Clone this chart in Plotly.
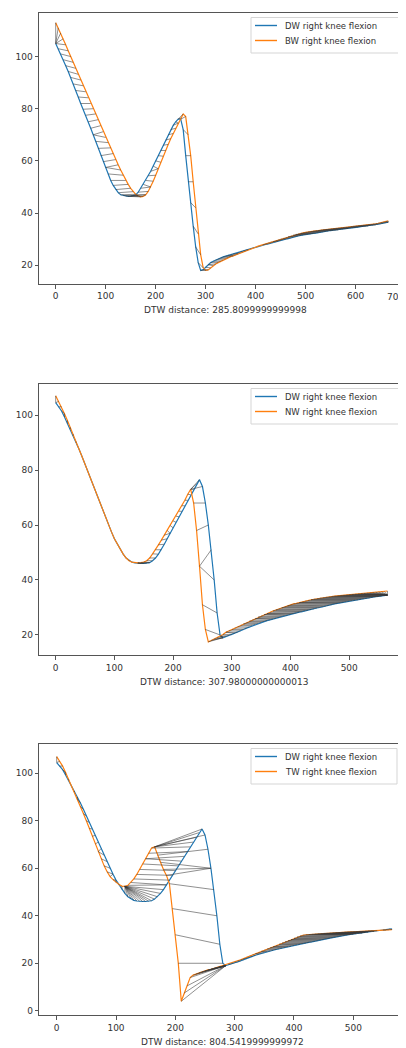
import numpy as np
import plotly.graph_objects as go

# ---------------- data (one value every 5 frames) ----------------
# Panel 1: DW vs BW
p1_x = list(range(0, 666, 5))
p1_dw_y = [105, 103, 101, 98.8, 96.5, 94.3, 92, 89.5, 87, 84.5,
           82, 79.8, 77.5, 75, 72.5, 70, 67.5, 64.8, 62, 59.7,
           57.5, 55, 52.5, 50.6, 49, 47.8, 47, 46.7, 46.5, 46.4,
           46.5, 46.7, 47, 48, 49.5, 51, 52.5, 54.3, 56, 58,
           60, 62, 64, 66, 68, 70, 72, 73.6, 75, 76,
           76, 72, 62, 52, 44, 35, 27, 21, 18, 18.3,
           19.2, 20.2, 21, 21.5, 22, 22.4, 22.8, 23.2, 23.5, 23.8,
           24, 24.3, 24.5, 24.8, 25.2, 25.5, 25.8, 26.1, 26.4, 26.7,
           27, 27.2, 27.5, 27.8, 28, 28.2, 28.5, 28.8, 29, 29.2,
           29.5, 29.8, 30, 30.2, 30.5, 30.8, 31, 31.2, 31.4, 31.6,
           31.8, 31.9, 32, 32.2, 32.3, 32.5, 32.7, 32.8, 33, 33.1,
           33.3, 33.4, 33.5, 33.6, 33.8, 33.9, 34, 34.1, 34.3, 34.4,
           34.5, 34.6, 34.8, 34.9, 35, 35.1, 35.3, 35.4, 35.5, 35.7,
           35.9, 36.1, 36.3, 36.5]
p1_bw_y = [113, 111, 109, 106.8, 104.5, 102.2, 100, 97.8, 95.5, 93.2,
           91, 88.8, 86.5, 84.2, 82, 80, 78, 75.8, 73.5, 71.2,
           69, 67, 65, 62.8, 60.5, 58.5, 56.5, 54.5, 52.5, 51,
           49.5, 48.2, 47.2, 46.6, 46.2, 46.4, 47, 48.3, 50, 52.2,
           54.5, 57, 59.5, 61.8, 64, 66.3, 68.5, 70.5, 72.5, 74.5,
           76.5, 78, 77, 70, 62, 52, 42, 32, 24, 19,
           18, 18.2, 19, 19.8, 20.5, 21, 21.5, 22, 22.5, 22.9,
           23.3, 23.6, 24, 24.4, 24.8, 25.1, 25.5, 25.9, 26.3, 26.6,
           27, 27.3, 27.6, 27.9, 28.2, 28.5, 28.8, 29.1, 29.4, 29.7,
           30, 30.3, 30.6, 30.9, 31.2, 31.5, 31.8, 32, 32.2, 32.4,
           32.6, 32.8, 32.9, 33.1, 33.2, 33.3, 33.5, 33.6, 33.7, 33.8,
           33.9, 34, 34.1, 34.2, 34.3, 34.4, 34.5, 34.6, 34.8, 34.9,
           35, 35.1, 35.2, 35.3, 35.4, 35.5, 35.6, 35.8, 35.9, 36.1,
           36.3, 36.5, 36.8, 37]

# Panels 2 and 3: DW reference recording
p23_x = list(range(0, 566, 5))
dw_y = [104.5, 103, 101.5, 99.3, 97, 94.8, 92.5, 90, 87.5, 84.8,
        82, 79.3, 76.5, 73.8, 71, 68.3, 65.5, 62.8, 60, 57.5,
        55, 53, 51, 49.4, 48, 47.2, 46.5, 46.2, 46, 46,
        46, 46.1, 46.3, 47, 48, 49.4, 51, 53, 55, 57,
        59, 61, 63, 65, 67, 69, 71, 73, 75, 76.5,
        74, 68, 60, 51, 40, 28, 20, 19, 19.5, 19.8,
        20.2, 20.6, 21, 21.5, 22, 22.5, 22.9, 23.4, 23.8, 24.2,
        24.5, 24.9, 25.2, 25.5, 25.8, 26.1, 26.4, 26.7, 27, 27.2,
        27.5, 27.8, 28, 28.3, 28.5, 28.8, 29, 29.3, 29.5, 29.8,
        30, 30.3, 30.5, 30.8, 31, 31.3, 31.5, 31.7, 31.9, 32.1,
        32.3, 32.5, 32.7, 32.8, 33, 33.2, 33.4, 33.5, 33.7, 33.9,
        34, 34.2, 34.4, 34.5]
# Panel 2: NW
nw_y = [107, 105, 103, 100.5, 98, 95.5, 93, 90.3, 87.5, 84.8,
        82, 79.3, 76.5, 73.8, 71, 68.3, 65.5, 62.8, 60, 57.5,
        55, 53, 51, 49.4, 48, 47, 46.5, 46.3, 46.2, 46.3,
        46.5, 47, 48, 49.5, 51, 52.8, 54.5, 56.3, 58, 59.8,
        61.5, 63.2, 65, 67, 69, 71.2, 73, 68, 58, 45,
        31, 22, 17.5, 18, 18.5, 19, 19.5, 20.2, 21, 21.5,
        22, 22.5, 23, 23.5, 24, 24.5, 25, 25.5, 26, 26.5,
        26.9, 27.4, 27.8, 28.2, 28.7, 29.1, 29.5, 29.9, 30.3, 30.6,
        31, 31.3, 31.5, 31.8, 32, 32.3, 32.5, 32.8, 33, 33.2,
        33.4, 33.5, 33.7, 33.8, 34, 34.1, 34.2, 34.3, 34.4, 34.5,
        34.6, 34.7, 34.8, 34.9, 35, 35.1, 35.2, 35.3, 35.4, 35.5,
        35.6, 35.7, 35.8, 36]
# Panel 3: TW
tw_y = [107, 105, 103, 100.3, 97.5, 94.8, 92, 89, 86, 83,
        80, 76.8, 73.5, 70.2, 67, 64, 61, 58.5, 56.5, 55.2,
        54, 53.2, 52.5, 52.4, 52.8, 54, 55.5, 57.4, 59.5, 61.8,
        64, 66.3, 68.5, 69, 65.5, 62.5, 59.5, 57, 53.5, 43,
        32, 20, 4, 7.5, 10.5, 14, 15, 15.5, 16, 16.4,
        16.8, 17.2, 17.5, 17.9, 18.2, 18.5, 18.8, 19.2, 19.6, 20,
        20.5, 21, 21.5, 22, 22.5, 23, 23.5, 24, 24.5, 25,
        25.5, 26, 26.5, 27, 27.5, 28, 28.5, 29, 29.5, 30,
        30.5, 31, 31.4, 31.8, 32, 32.1, 32.2, 32.3, 32.4, 32.5,
        32.6, 32.6, 32.7, 32.8, 32.9, 32.9, 33, 33.1, 33.1, 33.2,
        33.2, 33.3, 33.4, 33.4, 33.5, 33.6, 33.6, 33.7, 33.8, 33.9,
        34, 34, 34.1, 34.2]

ref_names = ["DW right knee flexion", "DW right knee flexion", "DW right knee flexion"]
cmp_names = ["BW right knee flexion", "NW right knee flexion", "TW right knee flexion"]
titles = ["DTW distance: 285.8099999999998",
          "DTW distance: 307.98000000000013",
          "DTW distance: 804.5419999999972"]
x_ticks = [[0, 100, 200, 300, 400, 500, 600, 700],
           [0, 100, 200, 300, 400, 500],
           [0, 100, 200, 300, 400, 500]]
y_ticks = [[20, 40, 60, 80, 100],
           [20, 40, 60, 80, 100],
           [0, 20, 40, 60, 80, 100]]

panels = [
    (p1_x, p1_dw_y, p1_x, p1_bw_y),
    (p23_x, dw_y, p23_x, nw_y),
    (p23_x, dw_y, p23_x, tw_y),
]

# ---------------- layout geometry (page pixels) ----------------
OFF = 8                      # the page body margin the figure sits inside
W, H = 406 - OFF, 1048 - OFF # figure size
# (left, right, top, bottom) of each plot area, in page pixels
boxes = [(39, 406, 13, 284), (39.3, 401.7, 384, 655.3), (39.3, 399, 744, 1015.3)]
x_ranges = [[-33.4, 700.6], [-27.9, 589.4], [-29.3, 577]]
y_ranges = [[12.8, 116.7], [12.6, 111.3], [-1.9, 112.3]]

BLUE = "#1f77b4"
ORANGE = "#ff7f0e"
FONT = "DejaVu Sans"
TXT = "#333"


def px(v):
    return (v - OFF) / W


def py(v):
    return 1 - (v - OFF) / H


def dtw_path(a, b):
    n, m = len(a), len(b)
    D = np.full((n + 1, m + 1), np.inf)
    D[0, 0] = 0.0
    for i in range(1, n + 1):
        for j in range(1, m + 1):
            c = abs(a[i - 1] - b[j - 1])
            D[i, j] = c + min(D[i - 1, j], D[i, j - 1], D[i - 1, j - 1])
    i, j = n, m
    path = []
    while i > 0 and j > 0:
        path.append((i - 1, j - 1))
        opts = [D[i - 1, j - 1], D[i - 1, j], D[i, j - 1]]
        k = int(np.argmin(opts))
        if k == 0:
            i -= 1
            j -= 1
        elif k == 1:
            i -= 1
        else:
            j -= 1
    return path[::-1]


fig = go.Figure()
shapes = []
annotations = []

for p, (ax, ay, bx, by) in enumerate(panels):
    xa = "x" if p == 0 else f"x{p + 1}"
    ya = "y" if p == 0 else f"y{p + 1}"
    fig.add_trace(go.Scatter(x=ax, y=ay, mode="lines", line=dict(color=BLUE, width=1.2),
                             name=ref_names[p], showlegend=False, xaxis=xa, yaxis=ya))
    fig.add_trace(go.Scatter(x=bx, y=by, mode="lines", line=dict(color=ORANGE, width=1.2),
                             name=cmp_names[p], showlegend=False, xaxis=xa, yaxis=ya))
    path = dtw_path(np.array(ay, float), np.array(by, float))
    sx, sy = [], []
    for i, j in path:
        sx += [ax[i], bx[j], None]
        sy += [ay[i], by[j], None]
    fig.add_trace(go.Scatter(x=sx, y=sy, mode="lines",
                             line=dict(color="rgba(55,55,55,0.8)", width=0.7),
                             showlegend=False, hoverinfo="skip", xaxis=xa, yaxis=ya))

    L, R, T, B = boxes[p]
    axis_common = dict(showgrid=False, zeroline=False, showline=True, mirror=True,
                       linecolor="#555", linewidth=1, ticks="outside", ticklen=3.5,
                       tickwidth=1, tickcolor="#555",
                       tickfont=dict(family=FONT, size=9, color=TXT))
    # the label of a tick that sits on the figure edge is written separately, kept inside the page
    xt_text = []
    for v in x_ticks[p]:
        if p == 0 and v == 700:
            xt_text.append("")
            annotations.append(dict(text=str(v), x=1.0, y=py(B + 12.5),
                                    xref="paper", yref="paper", showarrow=False,
                                    xanchor="right", yanchor="middle",
                                    font=dict(family=FONT, size=9, color=TXT)))
        else:
            xt_text.append(str(v))
    fig.layout[("xaxis" if p == 0 else f"xaxis{p + 1}")] = dict(
        domain=[px(L), min(1.0, px(R))], range=x_ranges[p], anchor=ya,
        tickmode="array", tickvals=x_ticks[p], ticktext=xt_text,
        **axis_common)
    fig.layout[("yaxis" if p == 0 else f"yaxis{p + 1}")] = dict(
        domain=[py(B), py(T)], range=y_ranges[p], anchor=xa,
        tickmode="array", tickvals=y_ticks[p], ticktext=[str(v) for v in y_ticks[p]],
        **axis_common)

    # x-axis caption
    annotations.append(dict(text=titles[p], x=px((L + R) / 2 + 3), y=py(B + 26.5),
                            xref="paper", yref="paper", showarrow=False,
                            xanchor="center", yanchor="middle",
                            font=dict(family=FONT, size=9, color=TXT)))

    # legend (matplotlib style)
    lx0, lx1 = 251, min(R - 2, 400)
    ly0, ly1 = T + 4.5, T + 40
    shapes.append(dict(type="rect", xref="paper", yref="paper",
                       x0=px(lx0), x1=px(lx1), y0=py(ly1), y1=py(ly0),
                       line=dict(color="#d5d5d5", width=1), fillcolor="rgba(255,255,255,0.85)",
                       layer="above"))
    for k, (name, col) in enumerate([(ref_names[p], BLUE), (cmp_names[p], ORANGE)]):
        yy = T + 12.5 + 15 * k
        shapes.append(dict(type="line", xref="paper", yref="paper",
                           x0=px(255), x1=px(277), y0=py(yy), y1=py(yy),
                           line=dict(color=col, width=1.4), layer="above"))
        annotations.append(dict(text=name, x=px(283), y=py(yy), xref="paper", yref="paper",
                                showarrow=False, xanchor="left", yanchor="middle",
                                font=dict(family=FONT, size=8.5, color=TXT)))

fig.update_layout(width=W, height=H, margin=dict(l=0, r=0, t=0, b=0),
                  paper_bgcolor="white", plot_bgcolor="white",
                  shapes=shapes, annotations=annotations, showlegend=False)

fig.write_html("out.html")
